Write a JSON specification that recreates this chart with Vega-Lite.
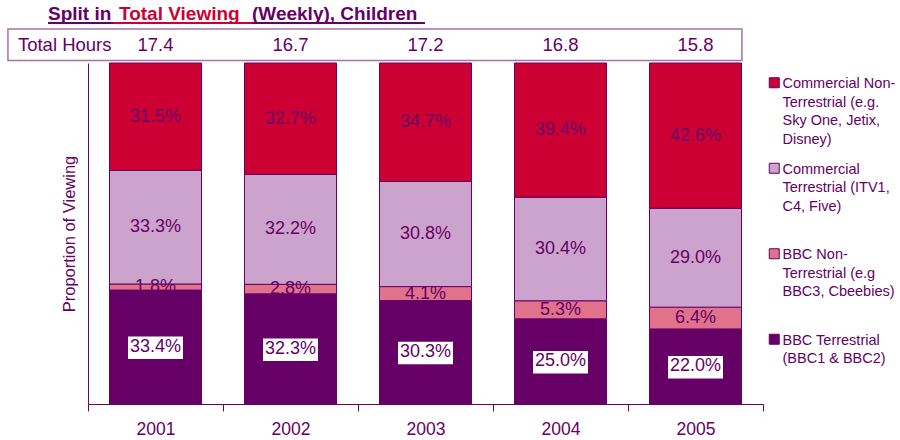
{
  "$schema": "https://vega.github.io/schema/vega-lite/v6.json",
  "width": 675,
  "height": 341,
  "autosize": {"type": "none"},
  "padding": {"left": 88, "top": 63, "right": 137, "bottom": 36},
  "config": {
    "view": {"stroke": null},
    "font": "Liberation Sans",
    "style": {"guide-label": {"lineHeight": 18.5}},
    "axis": {"grid": false, "domainColor": "#660066", "tickColor": "#660066", "labelColor": "#660066", "titleColor": "#660066"}
  },
  "layer": [
    {
      "data": {"values": [
        {"year": 2001, "series": "BBC Terrestrial (BBC1 & BBC2)", "pct": 33.4},
        {"year": 2001, "series": "BBC Non-Terrestrial (e.g BBC3, Cbeebies)", "pct": 1.8},
        {"year": 2001, "series": "Commercial Terrestrial (ITV1, C4, Five)", "pct": 33.3},
        {"year": 2001, "series": "Commercial Non-Terrestrial (e.g. Sky One, Jetix, Disney)", "pct": 31.5},
        {"year": 2002, "series": "BBC Terrestrial (BBC1 & BBC2)", "pct": 32.3},
        {"year": 2002, "series": "BBC Non-Terrestrial (e.g BBC3, Cbeebies)", "pct": 2.8},
        {"year": 2002, "series": "Commercial Terrestrial (ITV1, C4, Five)", "pct": 32.2},
        {"year": 2002, "series": "Commercial Non-Terrestrial (e.g. Sky One, Jetix, Disney)", "pct": 32.7},
        {"year": 2003, "series": "BBC Terrestrial (BBC1 & BBC2)", "pct": 30.3},
        {"year": 2003, "series": "BBC Non-Terrestrial (e.g BBC3, Cbeebies)", "pct": 4.1},
        {"year": 2003, "series": "Commercial Terrestrial (ITV1, C4, Five)", "pct": 30.8},
        {"year": 2003, "series": "Commercial Non-Terrestrial (e.g. Sky One, Jetix, Disney)", "pct": 34.7},
        {"year": 2004, "series": "BBC Terrestrial (BBC1 & BBC2)", "pct": 25.0},
        {"year": 2004, "series": "BBC Non-Terrestrial (e.g BBC3, Cbeebies)", "pct": 5.3},
        {"year": 2004, "series": "Commercial Terrestrial (ITV1, C4, Five)", "pct": 30.4},
        {"year": 2004, "series": "Commercial Non-Terrestrial (e.g. Sky One, Jetix, Disney)", "pct": 39.4},
        {"year": 2005, "series": "BBC Terrestrial (BBC1 & BBC2)", "pct": 22.0},
        {"year": 2005, "series": "BBC Non-Terrestrial (e.g BBC3, Cbeebies)", "pct": 6.4},
        {"year": 2005, "series": "Commercial Terrestrial (ITV1, C4, Five)", "pct": 29.0},
        {"year": 2005, "series": "Commercial Non-Terrestrial (e.g. Sky One, Jetix, Disney)", "pct": 42.6}
      ]},
      "transform": [
        {"stack": "pct", "groupby": ["year"], "offset": "normalize", "as": ["y0", "y1"]},
        {"calculate": "(datum.y0 + datum.y1) / 2", "as": "ymid"},
        {"calculate": "format(datum.pct, '.1f') + '%'", "as": "label"}
      ],
      "layer": [
        {
          "mark": {"type": "bar", "size": 92, "stroke": "#660066", "strokeWidth": 1},
          "encoding": {
            "x": {
              "field": "year", "type": "quantitative",
              "scale": {"domain": [2000.5, 2005.5], "nice": false, "zero": false, "padding": 0},
              "axis": {
                "values": [2000.5, 2001, 2001.5, 2002, 2002.5, 2003, 2003.5, 2004, 2004.5, 2005, 2005.5],
                "labelExpr": "datum.value % 1 == 0 ? '' + datum.value : ''",
                "tickOpacity": {"condition": {"test": "datum.value % 1 == 0", "value": 0}, "value": 1},
                "grid": false, "title": null,
                "domainColor": "#660066", "tickColor": "#660066", "tickSize": 7,
                "labelColor": "#660066", "labelFontSize": 17.5, "labelPadding": 9,
                "labelOverlap": false, "labelFlush": false
              }
            },
            "y": {
              "field": "y0", "type": "quantitative", "stack": null,
              "scale": {"domain": [0, 1], "nice": false, "padding": 0},
              "axis": {
                "title": "Proportion of Viewing", "labels": false, "ticks": false, "grid": false,
                "domainColor": "#660066", "titleColor": "#660066", "titleFontSize": 16.5,
                "titleFontWeight": "normal", "titlePadding": 11
              }
            },
            "y2": {"field": "y1"},
            "color": {
              "field": "series", "type": "nominal",
              "scale": {
                "domain": ["Commercial Non-Terrestrial (e.g. Sky One, Jetix, Disney)", "Commercial Terrestrial (ITV1, C4, Five)", "BBC Non-Terrestrial (e.g BBC3, Cbeebies)", "BBC Terrestrial (BBC1 & BBC2)"],
                "range": ["#CC0033", "#CCA3CC", "#E0728C", "#660066"]
              },
              "legend": {
                "title": null, "orient": "none", "legendX": 679, "legendY": 7,
                "padding": 0, "symbolType": "M-1,0.1H1V2.1H-1Z", "symbolSize": 100,
                "symbolStrokeColor": "#660066", "symbolStrokeWidth": 1, "symbolOpacity": 1,
                "labelFontSize": 14.5, "labelColor": "#660066", "labelBaseline": "top",
                "labelOffset": 1, "labelLimit": 200, "rowPadding": 8.5, "gridAlign": "all",
                "labelExpr": "datum.value == 'Commercial Non-Terrestrial (e.g. Sky One, Jetix, Disney)' ? ['Commercial Non-', 'Terrestrial (e.g.', 'Sky One, Jetix,', 'Disney)'] : datum.value == 'Commercial Terrestrial (ITV1, C4, Five)' ? ['Commercial', 'Terrestrial (ITV1,', 'C4, Five)'] : datum.value == 'BBC Non-Terrestrial (e.g BBC3, Cbeebies)' ? ['BBC Non-', 'Terrestrial (e.g', 'BBC3, Cbeebies)'] : ['BBC Terrestrial', '(BBC1 & BBC2)']"
              }
            }
          }
        },
        {
          "transform": [{"filter": "datum.series == 'BBC Terrestrial (BBC1 & BBC2)'"}],
          "mark": {"type": "point", "shape": "M-1.1,-0.42H1.1V0.48H-1.1Z", "size": 2500, "filled": true, "fill": "white", "opacity": 1, "strokeWidth": 0},
          "encoding": {
            "x": {"field": "year", "type": "quantitative", "scale": {"domain": [2000.5, 2005.5], "nice": false, "zero": false, "padding": 0}},
            "y": {"field": "ymid", "type": "quantitative", "scale": {"domain": [0, 1], "nice": false, "padding": 0}}
          }
        },
        {
          "mark": {"type": "text", "fontSize": 18, "fill": "#660066", "baseline": "middle", "align": "center"},
          "encoding": {
            "x": {"field": "year", "type": "quantitative", "scale": {"domain": [2000.5, 2005.5], "nice": false, "zero": false, "padding": 0}},
            "y": {"field": "ymid", "type": "quantitative", "scale": {"domain": [0, 1], "nice": false, "padding": 0}},
            "text": {"field": "label", "type": "nominal"}
          }
        }
      ]
    },
    {
      "data": {"values": [{}]},
      "mark": {"type": "rect", "fill": "white", "stroke": "#A673A6", "strokeWidth": 1.5},
      "encoding": {
        "x": {"datum": 1999.907, "type": "quantitative", "scale": {"domain": [2000.5, 2005.5], "nice": false, "zero": false, "padding": 0}},
        "x2": {"datum": 2005.344},
        "y": {"datum": 1.0073, "type": "quantitative", "scale": {"domain": [0, 1], "nice": false, "padding": 0}},
        "y2": {"datum": 1.0997}
      }
    },
    {
      "data": {"values": [{}]},
      "mark": {"type": "rule", "stroke": "#660066", "strokeWidth": 2},
      "encoding": {
        "x": {"datum": 2000.2037, "type": "quantitative", "scale": {"domain": [2000.5, 2005.5], "nice": false, "zero": false, "padding": 0}},
        "x2": {"datum": 2002.9963},
        "y": {"datum": 1.1173, "type": "quantitative", "scale": {"domain": [0, 1], "nice": false, "padding": 0}}
      }
    },
    {
      "data": {"values": [{}]},
      "mark": {"type": "rule", "stroke": "#CC0033", "strokeWidth": 2},
      "encoding": {
        "x": {"datum": 2000.6852, "type": "quantitative", "scale": {"domain": [2000.5, 2005.5], "nice": false, "zero": false, "padding": 0}},
        "x2": {"datum": 2001.7148},
        "y": {"datum": 1.1173, "type": "quantitative", "scale": {"domain": [0, 1], "nice": false, "padding": 0}}
      }
    },
    {
      "data": {"values": [{}]},
      "mark": {"type": "text", "text": "Split in", "align": "left", "baseline": "alphabetic", "fontSize": 19, "fontWeight": "bold", "fill": "#660066"},
      "encoding": {
        "x": {"datum": 2000.2037, "type": "quantitative", "scale": {"domain": [2000.5, 2005.5], "nice": false, "zero": false, "padding": 0}},
        "y": {"datum": 1.1261, "type": "quantitative", "scale": {"domain": [0, 1], "nice": false, "padding": 0}}
      }
    },
    {
      "data": {"values": [{}]},
      "mark": {"type": "text", "text": "Total Viewing", "align": "left", "baseline": "alphabetic", "fontSize": 19, "fontWeight": "bold", "fill": "#CC0033"},
      "encoding": {
        "x": {"datum": 2000.7296, "type": "quantitative", "scale": {"domain": [2000.5, 2005.5], "nice": false, "zero": false, "padding": 0}},
        "y": {"datum": 1.1261, "type": "quantitative", "scale": {"domain": [0, 1], "nice": false, "padding": 0}}
      }
    },
    {
      "data": {"values": [{}]},
      "mark": {"type": "text", "text": "(Weekly), Children", "align": "left", "baseline": "alphabetic", "fontSize": 19, "fontWeight": "bold", "fill": "#660066"},
      "encoding": {
        "x": {"datum": 2001.7148, "type": "quantitative", "scale": {"domain": [2000.5, 2005.5], "nice": false, "zero": false, "padding": 0}},
        "y": {"datum": 1.1261, "type": "quantitative", "scale": {"domain": [0, 1], "nice": false, "padding": 0}}
      }
    },
    {
      "data": {"values": [{}]},
      "mark": {"type": "text", "text": "Total Hours", "align": "left", "baseline": "middle", "fontSize": 18.5, "fill": "#660066"},
      "encoding": {
        "x": {"datum": 1999.981, "type": "quantitative", "scale": {"domain": [2000.5, 2005.5], "nice": false, "zero": false, "padding": 0}},
        "y": {"datum": 1.0528, "type": "quantitative", "scale": {"domain": [0, 1], "nice": false, "padding": 0}}
      }
    },
    {
      "data": {"values": [
        {"year": 2001, "hours": 17.4},
        {"year": 2002, "hours": 16.7},
        {"year": 2003, "hours": 17.2},
        {"year": 2004, "hours": 16.8},
        {"year": 2005, "hours": 15.8}
      ]},
      "mark": {"type": "text", "align": "center", "baseline": "middle", "fontSize": 18.5, "fill": "#660066"},
      "encoding": {
        "x": {"field": "year", "type": "quantitative", "scale": {"domain": [2000.5, 2005.5], "nice": false, "zero": false, "padding": 0}},
        "y": {"datum": 1.0528, "type": "quantitative", "scale": {"domain": [0, 1], "nice": false, "padding": 0}},
        "text": {"field": "hours", "type": "quantitative", "format": ".1f"}
      }
    }
  ]
}
